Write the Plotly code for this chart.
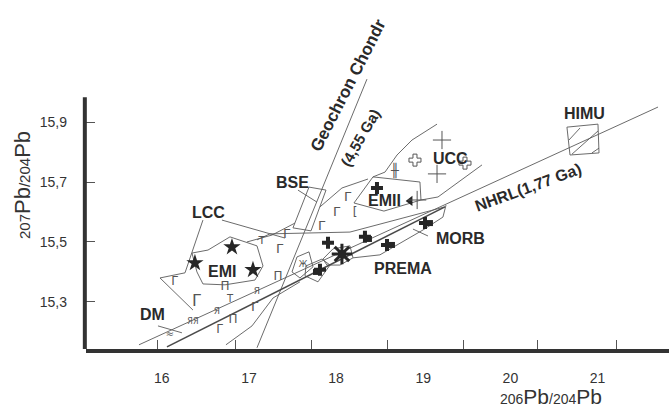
import plotly.graph_objects as go

# ---------------- axis ticks ----------------
x_tick_vals = [16, 17, 18, 19, 20, 21]
x_tick_text = ["16", "17", "18", "19", "20", "21"]
x_mark_vals = [15.956, 16.851, 17.723, 18.595, 19.467, 20.316, 21.223]
y_tick_vals = [15.3, 15.5, 15.7, 15.9]
y_tick_text = ["15,3", "15,5", "15,7", "15,9"]

# ---------------- reference lines ----------------
geochron_x = [17.092, 18.354]
geochron_y = [15.147, 16.043]
nhrl_x = [15.738, 21.694]
nhrl_y = [15.157, 15.950]
band_x = [16.059, 19.249]
band_y = [15.150, 15.617]

# ---------------- field outlines ----------------
upper_x = [17.092, 17.241, 18.159, 19.249]
upper_y = [15.507, 15.527, 15.533, 15.617]
emi_x = [16.346, 16.530, 16.782, 17.092, 17.161, 17.069, 16.725, 16.472, 16.403, 16.346]
emi_y = [15.463, 15.473, 15.517, 15.487, 15.420, 15.373, 15.357, 15.360, 15.400, 15.463]
lcc_left_x = [16.472, 16.346, 16.266, 15.979, 16.357]
lcc_left_y = [15.573, 15.463, 15.397, 15.380, 15.273]
lcc_right_x = [16.690, 17.413]
lcc_right_y = [15.573, 15.513]
mid_x = [16.977, 17.264, 17.528]
mid_y = [15.500, 15.523, 15.563]
link_x = [17.815, 18.067, 18.366]
link_y = [15.617, 15.680, 15.710]
emii_x = [18.423, 18.962, 18.974, 18.549, 18.205, 18.423]
emii_y = [15.717, 15.700, 15.640, 15.603, 15.630, 15.717]
ucc_left_x = [19.158, 18.871, 18.699, 18.561, 18.423]
ucc_left_y = [15.893, 15.840, 15.790, 15.733, 15.717]
ucc_right_x = [18.974, 19.169, 19.674]
ucc_right_y = [15.640, 15.650, 15.757]
bse_box_x = [17.689, 17.884, 17.712, 17.505, 17.689]
bse_box_y = [15.683, 15.673, 15.537, 15.547, 15.683]
bse_lead_x = [17.562, 17.780]
bse_lead_y = [15.673, 15.633]
prema_x = [17.849, 17.964, 18.159, 18.194, 18.044, 17.895, 17.849]
prema_y = [15.443, 15.477, 15.487, 15.447, 15.423, 15.423, 15.443]
morb_edge_x = [18.194, 18.503, 18.997, 19.226, 19.261]
morb_edge_y = [15.447, 15.457, 15.540, 15.583, 15.623]
morb_lead_x = [18.882, 19.054]
morb_lead_y = [15.543, 15.520]
s1_x = [17.551, 17.689, 17.735, 17.585, 17.494, 17.551]
s1_y = [15.450, 15.467, 15.417, 15.380, 15.400, 15.450]
s2_x = [17.654, 17.838, 17.930, 17.792, 17.643, 17.654]
s2_y = [15.420, 15.443, 15.423, 15.367, 15.387, 15.420]
low_x = [16.736, 17.035, 17.276, 17.585]
low_y = [15.157, 15.220, 15.313, 15.367]
dm_lead_x = [15.956, 16.231]
dm_lead_y = [15.220, 15.197]
himu_x = [20.649, 21.005, 21.017, 20.684, 20.649]
himu_y = [15.883, 15.893, 15.797, 15.790, 15.883]
himu_hatch_x = [20.672, 20.799, None, 20.707, 21.005, None, 20.936, 21.017]
himu_hatch_y = [15.840, 15.880, None, 15.793, 15.870, None, 15.797, 15.813]

# ---------------- data points ----------------
star_x = [16.805, 16.380, 17.046]
star_y = [15.483, 15.430, 15.407]
cross_x = [18.469, 17.907, 18.331, 18.584, 19.020, 17.815]
cross_y = [15.680, 15.497, 15.517, 15.490, 15.563, 15.407]
sq_x = [18.377, 18.641, 19.077, 17.769]
sq_y = [15.510, 15.490, 15.563, 15.400]
burst_x = [18.067]
burst_y = [15.460]
tri_x = [18.850]
tri_y = [15.637]
thin_x = [18.930, 19.215, 19.158]
thin_y = [15.640, 15.840, 15.727]
open_x = [18.905, 19.479]
open_y = [15.773, 15.763]
sym_x = [17.436, 17.356, 18.136, 18.010, 18.217, 17.838, 16.151, 16.403, 16.725,
         16.782, 17.092, 16.633, 16.357, 17.069, 16.817, 16.667, 16.094, 17.333,
         17.149, 18.676, 17.620]
sym_y = [15.523, 15.473, 15.647, 15.597, 15.597, 15.550, 15.367, 15.300, 15.350,
         15.307, 15.333, 15.267, 15.233, 15.280, 15.240, 15.207, 15.190, 15.383,
         15.503, 15.733, 15.423]
sym_text = ["Г", "Г", "Г", "Г", "[", "Г", "Г", "Г", "П",
            "Т", "Я", "Я", "ЯЯ", "Г", "П", "Г", "≈", "П",
            "Т", "╫", "Ж"]
sym_size = [13, 13, 13, 13, 12, 13, 12, 16, 12,
            10, 9, 9, 8, 13, 12, 12, 10, 12,
            11, 13, 8]

# ---------------- labels ----------------
lab_x = [17.494, 16.541, 16.690, 15.898, 19.318, 18.560, 19.433, 18.767, 20.845]
lab_y = [15.697, 15.597, 15.400, 15.257, 15.780, 15.637, 15.510, 15.413, 15.927]
lab_text = ["BSE", "LCC", "EMI", "DM", "UCC", "EMII", "MORB", "PREMA", "HIMU"]

LC = "#5a5a5a"
DK = "#262626"
fig = go.Figure()


def add_line(xs, ys, w=0.9, color=LC):
    fig.add_trace(go.Scatter(x=xs, y=ys, mode="lines", line=dict(color=color, width=w),
                             hoverinfo="skip", showlegend=False))


for xs, ys in [(geochron_x, geochron_y), (nhrl_x, nhrl_y), (upper_x, upper_y),
               (emi_x, emi_y), (lcc_left_x, lcc_left_y), (lcc_right_x, lcc_right_y),
               (mid_x, mid_y), (link_x, link_y), (emii_x, emii_y),
               (ucc_left_x, ucc_left_y), (ucc_right_x, ucc_right_y),
               (bse_box_x, bse_box_y), (bse_lead_x, bse_lead_y), (prema_x, prema_y),
               (morb_edge_x, morb_edge_y), (morb_lead_x, morb_lead_y),
               (s1_x, s1_y), (s2_x, s2_y), (low_x, low_y), (dm_lead_x, dm_lead_y),
               (himu_x, himu_y), (himu_hatch_x, himu_hatch_y)]:
    add_line(xs, ys)
add_line(band_x, band_y, w=1.6, color="#4a4a4a")

fig.add_trace(go.Scatter(x=star_x, y=star_y, mode="markers",
                         marker=dict(symbol="star", size=13, color=DK), showlegend=False))
fig.add_trace(go.Scatter(x=cross_x, y=cross_y, mode="markers",
                         marker=dict(symbol="cross", size=10, color=DK), showlegend=False))
fig.add_trace(go.Scatter(x=sq_x, y=sq_y, mode="markers",
                         marker=dict(symbol="square", size=6, color=DK), showlegend=False))
fig.add_trace(go.Scatter(x=burst_x, y=burst_y, mode="markers",
                         marker=dict(symbol="asterisk-open", size=17, color=DK,
                                     line=dict(color=DK, width=3)),
                         showlegend=False))
fig.add_trace(go.Scatter(x=burst_x, y=burst_y, mode="markers",
                         marker=dict(symbol="circle", size=8, color=DK), showlegend=False))
fig.add_trace(go.Scatter(x=tri_x, y=tri_y, mode="markers",
                         marker=dict(symbol="triangle-left", size=9, color=DK), showlegend=False))
fig.add_trace(go.Scatter(x=thin_x, y=thin_y, mode="markers",
                         marker=dict(symbol="cross-thin-open", size=13, color="#555",
                                     line=dict(color="#555", width=1)),
                         showlegend=False))
fig.add_trace(go.Scatter(x=open_x, y=open_y, mode="markers",
                         marker=dict(symbol="cross-open", size=10, color="#555",
                                     line=dict(color="#555", width=1)),
                         showlegend=False))
fig.add_trace(go.Scatter(x=sym_x, y=sym_y, mode="text", text=sym_text,
                         textfont=dict(family="DejaVu Sans", size=sym_size,
                                       color=["#555"] * len(sym_text)),
                         showlegend=False, hoverinfo="skip"))

# dummy trace on overlay axis for the inside tick marks
fig.add_trace(go.Scatter(x=[16], y=[15.3], xaxis="x2", mode="markers",
                         marker=dict(opacity=0, color="white"), showlegend=False, hoverinfo="skip"))

lab_font = dict(family="Liberation Sans", size=16, color="#2a2a2a", weight="bold")
for tx, ty, tt in zip(lab_x, lab_y, lab_text):
    fig.add_annotation(x=tx, y=ty, text=tt, showarrow=False, font=lab_font,
                       xanchor="center", yanchor="middle")

fig.add_annotation(x=18.136, y=16.023, text="Geochron Chondr", showarrow=False,
                   textangle=-63, font=dict(family="Liberation Sans", size=17, color="#2a2a2a", weight="bold"))
fig.add_annotation(x=18.274, y=15.85, text="(4,55 Ga)", showarrow=False,
                   textangle=-60, font=dict(family="Liberation Sans", size=15, color="#2a2a2a", weight="bold"))
fig.add_annotation(x=20.202, y=15.683, text="NHRL(1,77 Ga)", showarrow=False,
                   textangle=-20, font=dict(family="Liberation Sans", size=16, color="#2a2a2a", weight="bold"))

# axis titles
fig.add_annotation(xref="paper", yref="paper", x=0.7976, y=-0.1748,
                   text="<span style='font-size:14px'>206</span>Pb<span style='font-size:14px'>/204</span>Pb",
                   showarrow=False, xanchor="center", yanchor="bottom",
                   font=dict(family="Liberation Sans", size=21, color="#333"))
fig.add_annotation(xref="paper", yref="paper", x=-0.108, y=0.47, textangle=-90,
                   text="<span style='font-size:15px'>207</span>Pb<span style='font-size:15px'>/204</span>Pb",
                   showarrow=False, xanchor="center", yanchor="middle",
                   font=dict(family="Liberation Sans", size=22, color="#333"))

XR = [15.130, 21.820]
YR = [15.143, 16.307]

# thick y-axis line that stops below the top of the figure
fig.add_shape(type="line", xref="paper", yref="y", x0=-0.002, x1=-0.002, y0=YR[0], y1=15.983,
              line=dict(color="#333", width=4))

fig.update_layout(
    width=669, height=410,
    margin=dict(l=86, r=0, t=0, b=61),
    paper_bgcolor="white", plot_bgcolor="white",
    xaxis=dict(range=XR, tickvals=x_tick_vals, ticktext=x_tick_text, showgrid=False,
               zeroline=False, showline=True, linewidth=4, linecolor="#333", ticks="",
               ticklabelstandoff=13,
               tickfont=dict(family="Liberation Sans", size=14, color="#333")),
    xaxis2=dict(range=XR, overlaying="x", anchor="y", side="bottom", tickvals=x_mark_vals,
                showticklabels=False, ticks="inside", ticklen=9, tickcolor="#555",
                showgrid=False, zeroline=False, showline=False),
    yaxis=dict(range=YR, tickvals=y_tick_vals, ticktext=y_tick_text, showgrid=False,
               zeroline=False, showline=False, ticks="inside", ticklen=9, tickcolor="#555",
               ticklabelstandoff=18,
               tickfont=dict(family="Liberation Sans", size=14, color="#333")),
)

fig.write_html("out.html", config={"displayModeBar": False},
               post_script="document.body.style.margin='0';")
